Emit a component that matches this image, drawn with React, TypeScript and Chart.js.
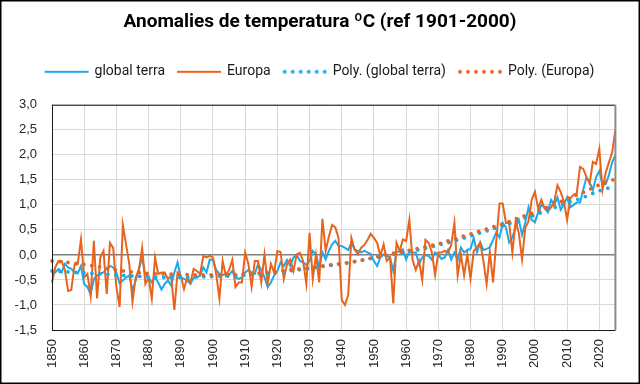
import React, { useEffect, useRef } from 'react';
import { Chart, registerables } from 'chart.js';

Chart.register(...registerables);

const FIRST_YEAR = 1850;
const LAST_YEAR = 2025;
const years: string[] = [];
for (let y = FIRST_YEAR; y <= LAST_YEAR; y++) years.push(String(y));

const globalTerra: number[] = [
  -0.32, -0.35, -0.28, -0.35, -0.18, -0.25, -0.28, -0.35, -0.37, -0.22,
  -0.58, -0.64, -0.79, -0.48, -0.41, -0.37, -0.35, -0.28, -0.22, -0.25,
  -0.35, -0.57, -0.51, -0.45, -0.41, -0.71, -0.51, -0.28, -0.05, -0.41,
  -0.45, -0.55, -0.45, -0.55, -0.69, -0.58, -0.51, -0.61, -0.35, -0.15,
  -0.45, -0.48, -0.51, -0.58, -0.45, -0.45, -0.41, -0.25, -0.35, -0.09,
  -0.10, -0.30, -0.38, -0.40, -0.38, -0.40, -0.32, -0.45, -0.48, -0.45,
  -0.35, -0.30, -0.35, -0.38, -0.18, -0.30, -0.45, -0.64, -0.55, -0.41,
  -0.32, -0.15, -0.22, -0.10, -0.22, -0.05, 0.00, -0.12, -0.15, -0.20,
  -0.12, 0.08, 0.01, -0.25, 0.05, -0.09, 0.08, 0.21, 0.28, 0.18,
  0.18, 0.14, 0.10, 0.24, 0.11, 0.08, 0.05, 0.08, 0.05, 0.02,
  -0.12, -0.22, -0.05, 0.01, -0.02, -0.05, -0.32, 0.05, 0.08, 0.11,
  -0.09, 0.08, 0.05, 0.05, -0.18, -0.05, 0.00, -0.02, -0.10, 0.05,
  0.00, -0.08, -0.05, 0.10, -0.09, 0.05, -0.10, 0.15, 0.05, 0.10,
  0.12, 0.34, 0.05, 0.25, 0.10, 0.12, 0.15, 0.30, 0.45, 0.35,
  0.64, 0.55, 0.25, 0.35, 0.55, 0.70, 0.40, 0.65, 0.95, 0.70,
  0.65, 0.85, 1.00, 0.95, 0.85, 1.10, 1.00, 1.15, 0.90, 1.00,
  1.15, 0.95, 1.00, 1.05, 1.05, 1.30, 1.55, 1.45, 1.30, 1.55,
  1.68, 1.40, 1.42, 1.60, 1.85, 2.00,
];

const europa: number[] = [
  -0.55, -0.25, -0.12, -0.12, -0.30, -0.72, -0.70, -0.20, -0.18, 0.31,
  -0.45, -0.38, -0.82, 0.28, -0.87, -0.05, 0.08, -0.78, 0.24, 0.14,
  -0.64, -1.04, 0.60, 0.21, -0.18, -0.94, -0.45, -0.30, 0.14, -0.58,
  -0.45, -0.87, -0.05, -0.38, -0.35, -0.35, -0.48, -0.42, -1.10, -0.35,
  -0.41, -0.68, -0.45, -0.55, -0.28, -0.32, -0.38, -0.02, -0.05, -0.02,
  -0.05, -0.38, -0.87, -0.12, -0.41, -0.30, -0.10, -0.64, -0.55, -0.55,
  0.05, -0.18, -0.64, -0.12, -0.12, -0.55, 0.01, -0.58, -0.18, -0.35,
  0.08, 0.06, -0.48, -0.18, -0.09, -0.32, 0.01, 0.04, -0.12, -0.58,
  0.44, -0.48, 0.00, -0.55, 0.72, 0.08, 0.37, 0.60, 0.55, 0.34,
  -0.90, -1.00, -0.80, 0.34, 0.11, 0.01, 0.14, 0.20, 0.30, 0.42,
  0.34, 0.24, -0.02, 0.21, -0.12, -0.05, -0.97, 0.24, 0.08, 0.31,
  0.28, 0.70, -0.10, -0.30, -0.12, -0.50, 0.30, 0.24, 0.05, -0.40,
  0.05, 0.05, 0.08, 0.05, 0.20, 0.64, -0.41, 0.01, -0.41, 0.01,
  -0.48, 0.08, 0.15, 0.24, -0.12, -0.58, 0.05, -0.55, 0.28, 1.03,
  1.03, 0.64, 0.64, 0.05, 0.67, 0.44, -0.09, 0.54, 0.67, 1.10,
  1.26, 0.93, 1.10, 0.93, 0.87, 0.95, 1.07, 1.39, 1.26, 1.07,
  0.70, 1.13, 1.20, 1.23, 1.76, 1.72, 1.56, 1.43, 1.86, 1.82,
  2.12, 1.30, 1.65, 1.85, 2.05, 2.50,
];

const trendYears: string[] = [
  '1850', '1855', '1860', '1865', '1870', '1875', '1880', '1885', '1890', '1895',
  '1900', '1905', '1910', '1915', '1920', '1925', '1930', '1935', '1940', '1945',
  '1950', '1955', '1960', '1965', '1970', '1975', '1980', '1985', '1990', '1995',
  '2000', '2005', '2010', '2015', '2020', '2025',
];

const polyGlobalTerra: number[] = [
  -0.32, -0.34, -0.36, -0.38, -0.40, -0.42, -0.44, -0.45, -0.45, -0.44,
  -0.43, -0.42, -0.40, -0.38, -0.35, -0.31, -0.27, -0.22, -0.18, -0.12,
  -0.06, 0.00, 0.05, 0.12, 0.20, 0.28, 0.38, 0.48, 0.58, 0.70,
  0.80, 0.92, 1.04, 1.15, 1.28, 1.38,
];

const polyEuropa: number[] = [
  -0.12, -0.15, -0.19, -0.24, -0.30, -0.34, -0.37, -0.38, -0.39, -0.40,
  -0.40, -0.39, -0.38, -0.36, -0.33, -0.29, -0.26, -0.21, -0.17, -0.12,
  -0.05, 0.02, 0.08, 0.15, 0.22, 0.32, 0.42, 0.52, 0.62, 0.74,
  0.86, 0.98, 1.12, 1.25, 1.40, 1.52,
];

const seriesNames = ['global terra', 'Europa', 'Poly. (global terra)', 'Poly. (Europa)'];
const BLUE = '#1CA9EC';
const ORANGE = '#E8641C';

function legendSwatch(color: string, dotted: boolean): HTMLCanvasElement {
  const c = document.createElement('canvas');
  c.width = 46;
  c.height = 6;
  const g = c.getContext('2d')!;
  g.strokeStyle = color;
  g.fillStyle = color;
  if (dotted) {
    for (let k = 0; k < 6; k++) {
      g.beginPath();
      g.arc(3 + k * 8, 3, 1.9, 0, Math.PI * 2);
      g.fill();
    }
  } else {
    g.lineWidth = 2;
    g.beginPath();
    g.moveTo(1, 3);
    g.lineTo(45, 3);
    g.stroke();
  }
  return c;
}

const framePlugin = {
  id: 'frame',
  beforeDraw(chart: any) {
    const { ctx, width, height } = chart;
    ctx.save();
    ctx.fillStyle = '#ffffff';
    ctx.fillRect(0, 0, width, height);
    ctx.restore();
  },
  afterDatasetsDraw(chart: any) {
    const { ctx, chartArea: a } = chart;
    ctx.save();
    ctx.lineWidth = 1;
    ctx.strokeStyle = '#1a1a1a';
    ctx.beginPath();
    ctx.moveTo(a.left, a.top + 0.5);
    ctx.lineTo(a.right, a.top + 0.5);
    ctx.moveTo(a.left + 0.5, a.top);
    ctx.lineTo(a.left + 0.5, a.bottom);
    ctx.moveTo(a.left, a.bottom + 0.5);
    ctx.lineTo(a.right, a.bottom + 0.5);
    ctx.stroke();
    ctx.strokeStyle = '#8c8c8c';
    ctx.lineWidth = 2;
    ctx.beginPath();
    ctx.moveTo(a.right, a.top);
    ctx.lineTo(a.right, a.bottom);
    ctx.stroke();
    ctx.restore();
  },
  afterDraw(chart: any) {
    const { ctx, width, height } = chart;
    ctx.save();
    ctx.strokeStyle = '#000000';
    ctx.lineWidth = 1.5;
    ctx.strokeRect(0.75, 0.75, width - 1.5, height - 1.5);
    ctx.restore();
  },
};

const legendSpacer = {
  id: 'legendSpacer',
  beforeLayout(chart: any) {
    const lg = chart.legend;
    if (lg && !lg.__patched) {
      const f = lg.fit;
      lg.fit = function (this: any) {
        f.call(this);
        this.height += 16;
      };
      lg.__patched = true;
    }
  },
};

export default function App() {
  const ref = useRef<HTMLCanvasElement | null>(null);

  useEffect(() => {
    document.body.style.margin = '0';
    const swatches = [
      legendSwatch(BLUE, false),
      legendSwatch(ORANGE, false),
      legendSwatch(BLUE, true),
      legendSwatch(ORANGE, true),
    ];
    const chart = new Chart(ref.current!, {
      type: 'line',
      data: {
        labels: years,
        datasets: [
          {
            label: seriesNames[0],
            data: globalTerra,
            borderColor: BLUE,
            backgroundColor: BLUE,
            borderWidth: 2,
            pointRadius: 0,
            order: 4,
          },
          {
            label: seriesNames[1],
            data: europa,
            borderColor: ORANGE,
            backgroundColor: ORANGE,
            borderWidth: 2,
            pointRadius: 0,
            order: 3,
          },
          {
            label: seriesNames[2],
            data: trendYears.map((x, i) => ({ x, y: polyGlobalTerra[i] })),
            borderColor: BLUE,
            backgroundColor: BLUE,
            borderWidth: 3.8,
            borderDash: [0, 8],
            borderCapStyle: 'round',
            pointRadius: 0,
            cubicInterpolationMode: 'monotone',
            order: 2,
          } as any,
          {
            label: seriesNames[3],
            data: trendYears.map((x, i) => ({ x, y: polyEuropa[i] })),
            borderColor: ORANGE,
            backgroundColor: ORANGE,
            borderWidth: 3.8,
            borderDash: [0, 8],
            borderCapStyle: 'round',
            pointRadius: 0,
            cubicInterpolationMode: 'monotone',
            order: 1,
          } as any,
        ],
      },
      options: {
        animation: false,
        responsive: false,
        maintainAspectRatio: false,
        layout: { padding: { left: 0, right: 0, top: 0, bottom: 0 } },
        plugins: {
          title: {
            display: true,
            text: 'Anomalies de temperatura ºC (ref 1901-2000)',
            color: '#000000',
            font: { family: 'Roboto', size: 19, weight: 'bold' },
            padding: { top: 11, bottom: 18 },
          },
          legend: {
            display: true,
            labels: {
              usePointStyle: true,
              pointStyleWidth: 42,
              padding: 13,
              color: '#1a1a1a',
              font: { family: 'Roboto', size: 14 },
              sort: (a: any, b: any) => a.datasetIndex - b.datasetIndex,
              generateLabels: (ch: any) => {
                const items = Chart.defaults.plugins.legend.labels.generateLabels(ch);
                items.forEach((it: any) => {
                  it.pointStyle = swatches[it.datasetIndex];
                });
                return items;
              },
            },
          },
          tooltip: { enabled: false },
        },
        scales: {
          x: {
            type: 'category',
            offset: false,
            afterFit: (s: any) => {
              s.height = 54;
            },
            grid: {
              drawTicks: false,
              lineWidth: 1,
              color: (c: any) => ((FIRST_YEAR + c.index) % 10 === 0 ? '#d9d9d9' : 'rgba(0,0,0,0)'),
            },
            border: { display: false },
            ticks: {
              autoSkip: false,
              maxRotation: 90,
              minRotation: 90,
              padding: 9,
              color: '#262626',
              font: { family: 'Liberation Sans', size: 13 },
              callback: (_v: any, i: number) => ((FIRST_YEAR + i) % 10 === 0 ? years[i] : ''),
            },
          },
          y: {
            min: -1.5,
            max: 3,
            afterFit: (s: any) => {
              s.width = 52;
            },
            grid: {
              drawTicks: false,
              lineWidth: (c: any) => (c.tick && c.tick.value === 0 ? 1.5 : 1),
              color: (c: any) => (c.tick && c.tick.value === 0 ? '#7f7f7f' : '#d9d9d9'),
            },
            border: { display: false },
            ticks: {
              stepSize: 0.5,
              padding: 15,
              color: '#262626',
              font: { family: 'Liberation Sans', size: 13 },
              callback: (v: any) => Number(v).toFixed(1).replace('.', ','),
            },
          },
          rightSpace: {
            type: 'linear',
            position: 'right',
            display: true,
            afterFit: (s: any) => {
              s.width = 20;
            },
            grid: { display: false, drawTicks: false },
            border: { display: false },
            ticks: { display: false },
          } as any,
        },
      },
      plugins: [framePlugin, legendSpacer],
    });
    return () => chart.destroy();
  }, []);

  return (
    <div style={{ width: 640, height: 384, position: 'relative' }}>
      <canvas ref={ref} width={640} height={384} style={{ display: 'block', width: 640, height: 384 }} />
    </div>
  );
}
